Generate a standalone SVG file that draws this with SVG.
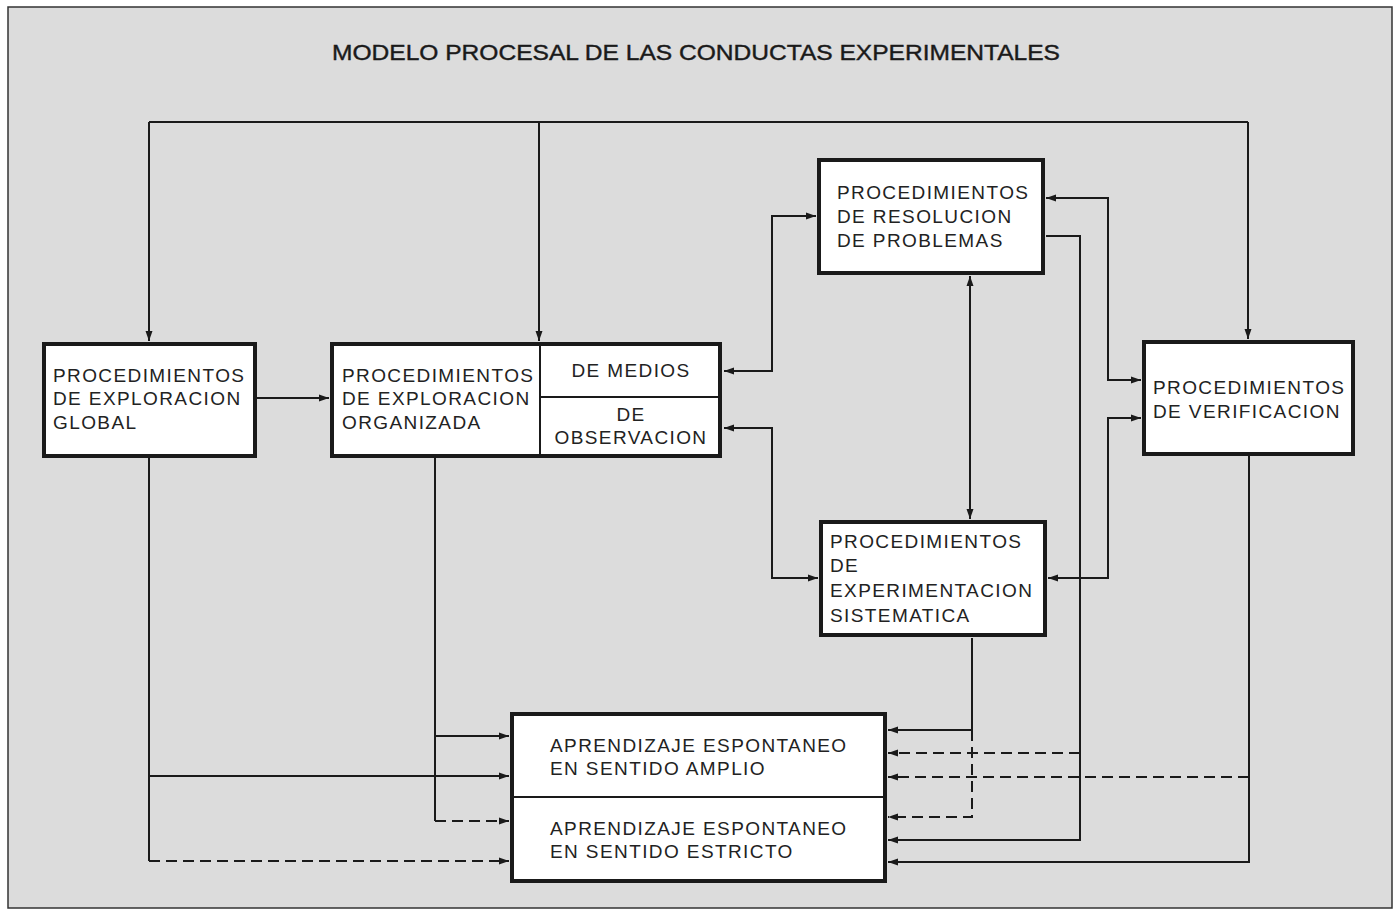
<svg xmlns="http://www.w3.org/2000/svg" width="1398" height="915" viewBox="0 0 1398 915">
<style>
.box{fill:#ffffff;stroke:#1a1a1a;stroke-width:4}
.sep{fill:none;stroke:#1a1a1a;stroke-width:2}
.t{font-family:"Liberation Sans",Arial,sans-serif;font-size:19px;fill:#222;letter-spacing:1.4px}
.tc{font-family:"Liberation Sans",Arial,sans-serif;font-size:19px;fill:#222;letter-spacing:1.4px;text-anchor:middle}
.title{font-family:"Liberation Sans",Arial,sans-serif;font-size:22px;fill:#1a1a1a;stroke:#1a1a1a;stroke-width:0.4}
.c{fill:none;stroke:#1a1a1a;stroke-width:2}
.d{fill:none;stroke:#1a1a1a;stroke-width:2;stroke-dasharray:11 6}
.a{marker-end:url(#ah)}
.aa{marker-start:url(#ah);marker-end:url(#ah)}
</style>
<defs>
<marker id="ah" markerUnits="userSpaceOnUse" markerWidth="10" markerHeight="8" refX="10" refY="4" orient="auto-start-reverse">
<path d="M0,0.5 L10,4 L0,7.5 z" fill="#1a1a1a" stroke="none"/>
</marker>
</defs>
<rect x="0" y="0" width="1398" height="915" fill="#ffffff"/>
<rect x="8" y="7" width="1384" height="901" fill="#dcdcdc" stroke="#333" stroke-width="1.5"/>
<text class="title" x="332" y="60" textLength="728" lengthAdjust="spacingAndGlyphs">MODELO PROCESAL DE LAS CONDUCTAS EXPERIMENTALES</text>

<g id="connectors">
<path class="c" d="M149,122 H1248"/>
<path class="c a" d="M149,122 V341"/>
<path class="c a" d="M539,122 V341"/>
<path class="c a" d="M1248,122 V339"/>
<path class="c a" d="M257,398 H329"/>
<path class="c aa" d="M724,371 H772 V216 H816"/>
<path class="c aa" d="M724,428 H772 V578 H818"/>
<path class="c aa" d="M970,276 V519"/>
<path class="c aa" d="M1046,198 H1108 V380 H1141"/>
<path class="c aa" d="M1141,418 H1108 V578 H1048"/>
<path class="c a" d="M1046,236 H1080 V840 H888"/>
<path class="c a" d="M1249,456 V862 H888"/>
<path class="c a" d="M972,638 V730 H888"/>
<path class="d a" d="M972,730 V817 H888"/>
<path class="d a" d="M1080,753 H888"/>
<path class="d a" d="M1249,777 H888"/>
<path class="c" d="M149,458 V861"/>
<path class="c a" d="M149,776 H509"/>
<path class="d a" d="M149,861 H509"/>
<path class="c" d="M435,458 V821"/>
<path class="c a" d="M435,736 H509"/>
<path class="d a" d="M435,821 H509"/>
</g>

<g id="node-global">
<rect class="box" x="44" y="344" width="211" height="112"/>
<text class="t" x="53" y="382">PROCEDIMIENTOS</text>
<text class="t" x="53" y="405">DE EXPLORACION</text>
<text class="t" x="53" y="429">GLOBAL</text>
</g>

<g id="node-organizada">
<rect class="box" x="332" y="344" width="388" height="112"/>
<path class="sep" d="M540,344 V456 M540,397 H720"/>
<text class="t" x="342" y="382">PROCEDIMIENTOS</text>
<text class="t" x="342" y="405">DE EXPLORACION</text>
<text class="t" x="342" y="429">ORGANIZADA</text>
<text class="tc" x="631" y="377">DE MEDIOS</text>
<text class="tc" x="631" y="421">DE</text>
<text class="tc" x="631" y="444">OBSERVACION</text>
</g>

<g id="node-resolucion">
<rect class="box" x="819" y="160" width="224" height="113"/>
<text class="t" x="837" y="199">PROCEDIMIENTOS</text>
<text class="t" x="837" y="223">DE RESOLUCION</text>
<text class="t" x="837" y="247">DE PROBLEMAS</text>
</g>

<g id="node-experimentacion">
<rect class="box" x="821" y="522" width="224" height="113"/>
<text class="t" x="830" y="548">PROCEDIMIENTOS</text>
<text class="t" x="830" y="572">DE</text>
<text class="t" x="830" y="597">EXPERIMENTACION</text>
<text class="t" x="830" y="622">SISTEMATICA</text>
</g>

<g id="node-verificacion">
<rect class="box" x="1144" y="342" width="209" height="112"/>
<text class="t" x="1153" y="394">PROCEDIMIENTOS</text>
<text class="t" x="1153" y="418">DE VERIFICACION</text>
</g>

<g id="node-aprendizaje">
<rect class="box" x="512" y="714" width="373" height="167"/>
<path class="sep" d="M512,797 H885"/>
<text class="t" x="550" y="752">APRENDIZAJE ESPONTANEO</text>
<text class="t" x="550" y="775">EN SENTIDO AMPLIO</text>
<text class="t" x="550" y="835">APRENDIZAJE ESPONTANEO</text>
<text class="t" x="550" y="858">EN SENTIDO ESTRICTO</text>
</g>
</svg>
